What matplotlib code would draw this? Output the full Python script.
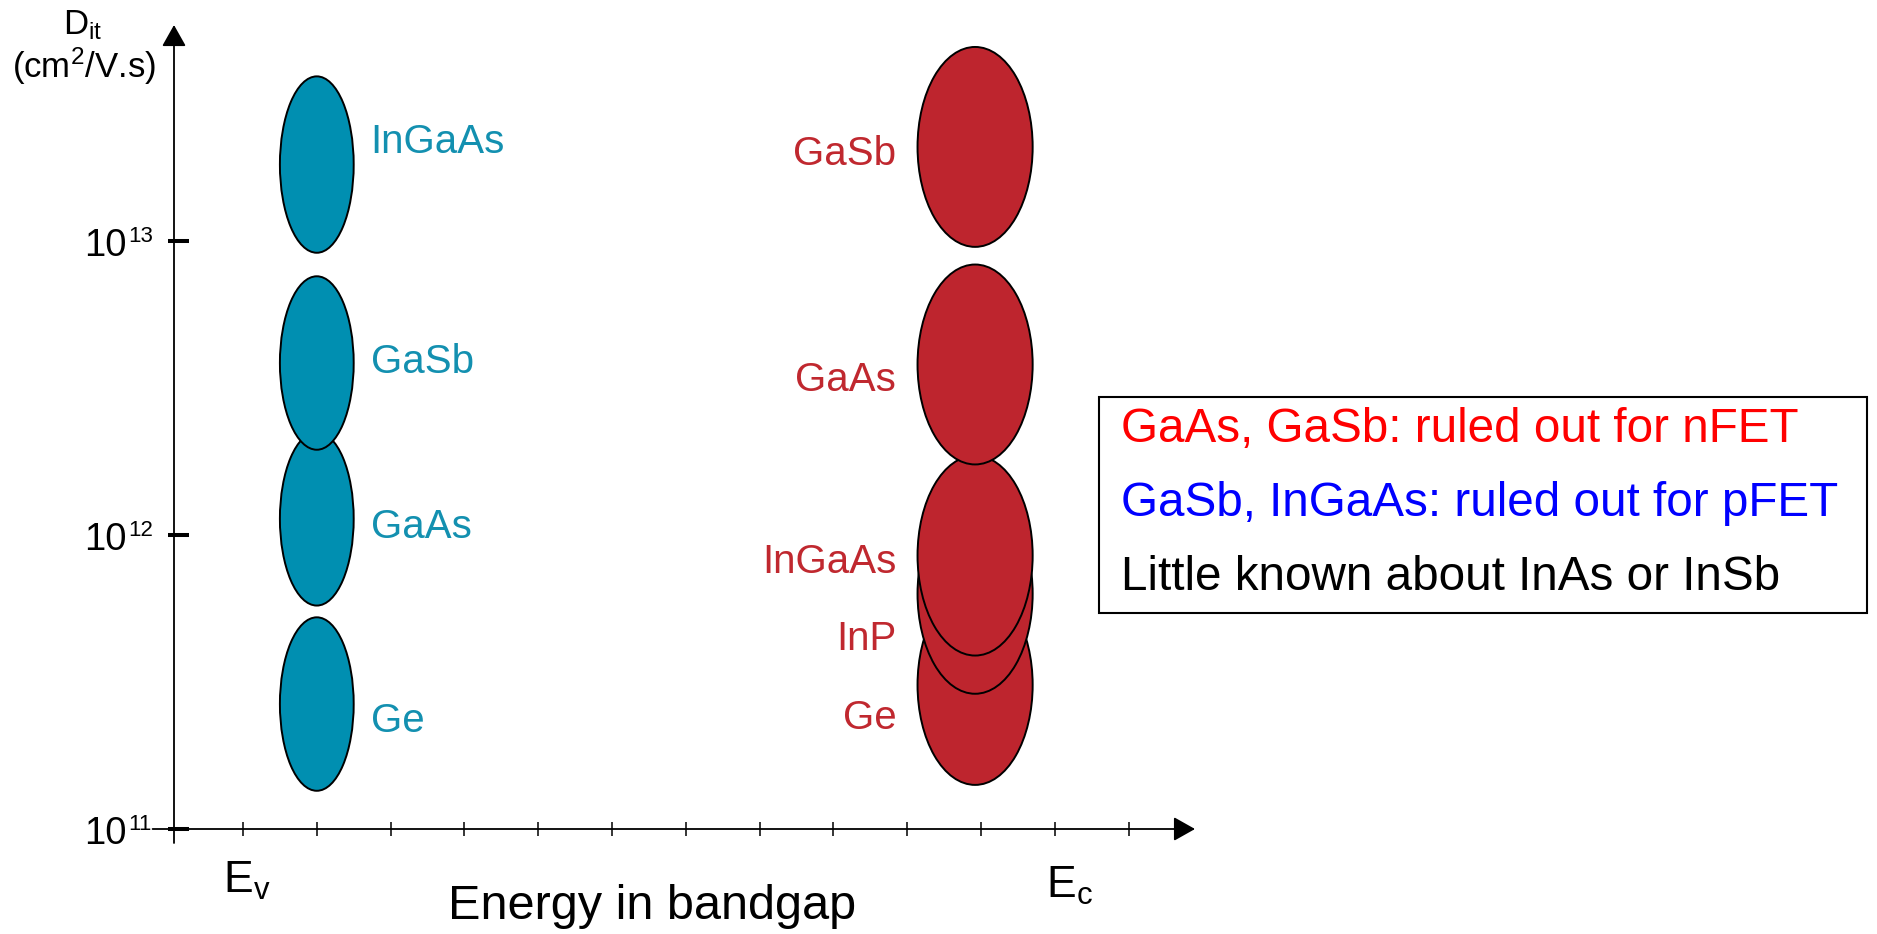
import matplotlib
matplotlib.use('Agg')
import matplotlib.pyplot as plt
from matplotlib.patches import Ellipse, Rectangle
from matplotlib.ticker import FixedLocator

plt.rcParams['font.family'] = ['Liberation Sans', 'DejaVu Sans']
plt.rcParams['mathtext.fontset'] = 'custom'
plt.rcParams['mathtext.rm'] = 'Liberation Sans'
plt.rcParams['mathtext.it'] = 'Liberation Sans'

# Dit ranges as log10 values
# pFET side (near Ev)
pfet_names = ['InGaAs', 'GaSb', 'GaAs', 'Ge']
pfet_lo = [12.96, 12.29, 11.76, 11.13]
pfet_hi = [13.56, 12.88, 12.35, 11.72]
pfet_label_y = [13.30, 12.55, 11.99, 11.33]

# nFET side (near Ec)
nfet_names = ['GaSb', 'GaAs', 'InGaAs', 'InP', 'Ge']
nfet_lo = [12.98, 12.24, 11.59, 11.46, 11.15]
nfet_hi = [13.66, 12.92, 12.27, 12.14, 11.83]
nfet_label_y = [13.26, 12.49, 11.87, 11.61, 11.34]

e_ticks = list(range(1, 14))     # energy axis ticks (arbitrary units)
pfet_e = 2.0
nfet_e = 10.92
dit_ticks = [11, 12, 13]

notes = ['GaAs, GaSb: ruled out for nFET',
         'GaSb, InGaAs: ruled out for pFET',
         'Little known about InAs or InSb']
note_colors = ['#ff0000', '#0000ff', 'black']

blue = '#008fb1'
blue_txt = '#1390b0'
red = '#be252e'
red_txt = '#c0282f'

W, H = 1877, 934
fig = plt.figure(figsize=(W / 100, H / 100), dpi=100)
ax = fig.add_axes([0, 0, 1, 1])
ax.set_xlim(1 - 243 / 73.8, 1 + (W - 243) / 73.8)
ax.set_ylim(11 - (H - 829) / 294, 11 + 829 / 294)


def fx(px):
    return px / W


def fy(py):
    return 1 - py / H


x0 = 1 + (174 - 243) / 73.8    # where the Dit axis sits

for s in ['top', 'right']:
    ax.spines[s].set_visible(False)
ax.spines['left'].set_position(('data', x0))
ax.spines['bottom'].set_position(('data', dit_ticks[0]))
ax.spines['left'].set_color('none')
ax.spines['bottom'].set_color('none')

# axis lines with arrow heads
arw = dict(arrowstyle='-|>,head_length=0.4,head_width=0.225', lw=1.3,
           color='k', mutation_scale=33, shrinkA=0, shrinkB=0)
ax.annotate('', xy=(x0, 11 + (829 - 25) / 294), xytext=(x0, 11 - 14 / 294),
            arrowprops=arw)
ax.annotate('', xy=(e_ticks[-1] + 0.9, dit_ticks[0]),
            xytext=(x0 - 0.29, dit_ticks[0]), arrowprops=arw)

ax.set_xticks(e_ticks)
ax.tick_params(axis='x', direction='inout', length=10, width=1.1,
               color='k', labelbottom=False)
ax.set_yticks(dit_ticks)
ax.yaxis.set_minor_locator(FixedLocator(dit_ticks))
ax.yaxis.remove_overlapping_locs = False
ax.tick_params(axis='y', which='major', direction='in', length=10.8,
               width=2.9, color='k', labelleft=False)
ax.tick_params(axis='y', which='minor', direction='out', length=4.3,
               width=2.9, color='k', labelleft=False)

for v in dit_ticks:
    ax.annotate('10', xy=(x0, v), xytext=(-47, -15), textcoords='offset pixels',
                ha='right', va='baseline', fontsize=27.5)
    ax.annotate(str(v), xy=(x0, v), xytext=(-46, -1), textcoords='offset pixels',
                ha='left', va='baseline', fontsize=16)

# ellipses, drawn from the bottom up so upper ones overlap lower ones
for lo, hi in reversed(list(zip(pfet_lo, pfet_hi))):
    ax.add_patch(Ellipse((pfet_e, (lo + hi) / 2), 1.0, hi - lo,
                         facecolor=blue, edgecolor='k', lw=1.4))
for name, ly in zip(pfet_names, pfet_label_y):
    ax.text(pfet_e + 0.73, ly, name, color=blue_txt, fontsize=29,
            ha='left', va='baseline')

for lo, hi in reversed(list(zip(nfet_lo, nfet_hi))):
    ax.add_patch(Ellipse((nfet_e, (lo + hi) / 2), 1.56, hi - lo,
                         facecolor=red, edgecolor='k', lw=1.4))
for name, ly in zip(nfet_names, nfet_label_y):
    ax.text(nfet_e - 1.07, ly, name, color=red_txt, fontsize=29,
            ha='right', va='baseline')

# axis titles
fig.text(fx(63), fy(34), r'$\mathregular{D_{it}}$', fontsize=25,
         ha='left', va='baseline')
fig.text(fx(12), fy(78), r'(cm$\mathregular{^2}$/V.s)', fontsize=25,
         ha='left', va='baseline')
fig.text(fx(223), fy(893), r'$\mathregular{E_v}$', fontsize=32,
         ha='left', va='baseline')
fig.text(fx(1046), fy(898), r'$\mathregular{E_c}$', fontsize=32,
         ha='left', va='baseline')
fig.text(fx(652), fy(919), 'Energy in bandgap', fontsize=35,
         ha='center', va='baseline')

# note box
fig.add_artist(Rectangle((fx(1099), fy(613)), (1867 - 1099) / W, 216 / H,
                         transform=fig.transFigure, fill=False,
                         edgecolor='k', lw=1.5))
for i, (t, c) in enumerate(zip(notes, note_colors)):
    fig.text(fx(1121), fy(442 + 74 * i), t, color=c, fontsize=34.3,
             ha='left', va='baseline')

fig.savefig('out.png', dpi=100)
